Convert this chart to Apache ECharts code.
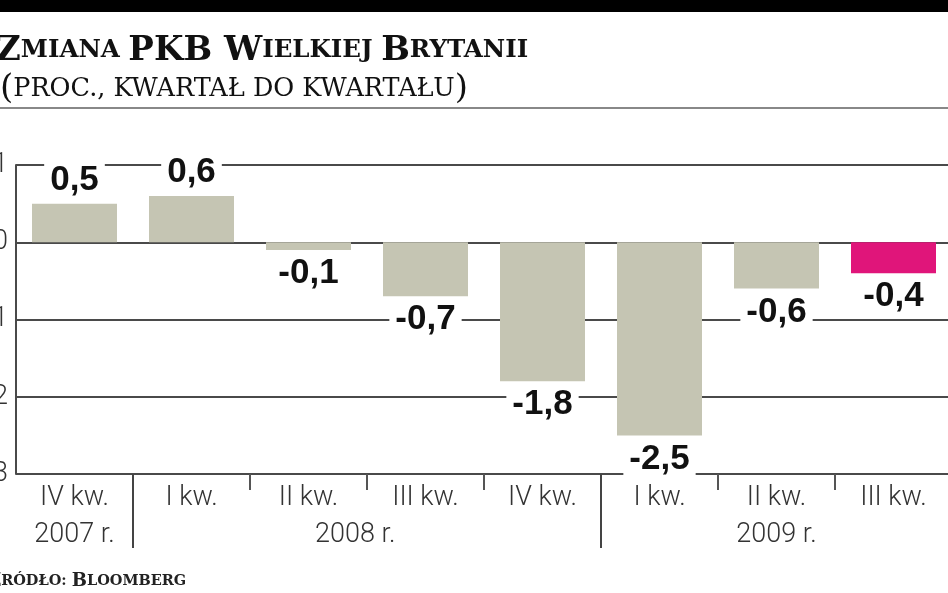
<!DOCTYPE html>
<html><head><meta charset="utf-8">
<script src="https://cdn.jsdelivr.net/npm/echarts@6/dist/echarts.min.js"></script>
<style>html,body{margin:0;padding:0;background:#fff}#c{width:948px;height:593px}</style>
</head><body><div id="c"></div>
<script>
const quarters = ['IV kw.','I kw.','II kw.','III kw.','IV kw.','I kw.','II kw.','III kw.'];
const gdpChange = [0.5, 0.6, -0.1, -0.7, -1.8, -2.5, -0.6, -0.4];
const highlightIndex = 7;
const yearLabels = ['2007 r.', '2008 r.', '2009 r.'];
const yearLabelPos = [0.5, 2.9, 6.5];
const yearSeparators = [1, 5];
const quarterSeparators = [2, 3, 4, 6, 7];
const titleText = '{b|Z}{s|MIANA }{b|PKB W}{s|IELKIEJ }{b|B}{s|RYTANII}';
const subtitleText = '{p|(}{s|PROC., KWARTAŁ DO KWARTAŁU}{p|)}';
const sourceText = '{b|Ź}{s|RÓDŁO: }{b|B}{s|LOOMBERG}';

const GREY = '#c5c5b3', PINK = '#e0157a', LINE = '#4a4a4a';
const numFont = 'Liberation Sans, Arial, sans-serif';
const narrow = 'Roboto, "Liberation Sans", sans-serif';
const serif = '"DejaVu Serif", serif';

const barData = gdpChange.map((v, i) => ({
  value: v,
  itemStyle: { color: i === highlightIndex ? PINK : GREY },
  label: { position: v >= 0 ? 'top' : 'bottom' }
}));

const chart = echarts.init(document.getElementById('c'), null, { renderer: 'canvas' });
chart.setOption({
  animation: false,
  backgroundColor: '#fff',
  title: [
    { text: titleText, left: -9, top: 29, textStyle: { rich: {
      b: { fontFamily: serif, fontWeight: 'bold', fontSize: 34, color: '#111' },
      s: { fontFamily: serif, fontWeight: 'bold', fontSize: 24.5, color: '#111' } } } },
    { text: subtitleText, left: -5, top: 67, textStyle: { fontWeight: 'normal', rich: {
      p: { fontFamily: serif, fontWeight: 'normal', fontSize: 34, color: '#111' },
      s: { fontFamily: serif, fontWeight: 'normal', fontSize: 25.5, color: '#111' } } } },
    { text: sourceText, left: -17, top: 567, textStyle: { rich: {
      b: { fontFamily: serif, fontWeight: 'bold', fontSize: 18, color: '#222' },
      s: { fontFamily: serif, fontWeight: 'bold', fontSize: 14.5, color: '#222' } } } }
  ],
  graphic: [
    { type: 'rect', shape: { x: 0, y: 0, width: 948, height: 12 }, style: { fill: '#000' } },
    { type: 'rect', shape: { x: 0, y: 107, width: 948, height: 2 }, style: { fill: '#888' } }
  ],
  grid: { left: 16, top: 165, width: 936, height: 309, containLabel: false, outerBoundsMode: 'none' },
  xAxis: [
    { type: 'category', data: quarters, position: 'bottom',
      axisLine: { show: true, lineStyle: { color: LINE, width: 2 } },
      axisTick: { show: false },
      axisLabel: { interval: 0, margin: 11, fontFamily: narrow, fontWeight: 300, fontSize: 27, lineHeight: 27, color: '#333' } },
    { type: 'value', min: 0, max: 8, position: 'bottom',
      axisLine: { show: false }, splitLine: { show: false },
      axisTick: { show: true, customValues: quarterSeparators, length: 16, lineStyle: { color: '#555', width: 2 } },
      axisLabel: { show: false } },
    { type: 'value', min: 0, max: 8, position: 'bottom',
      axisLine: { show: false }, splitLine: { show: false },
      axisTick: { show: true, customValues: yearSeparators, length: 74, lineStyle: { color: '#444', width: 2 } },
      axisLabel: { show: true, customValues: yearLabelPos, margin: 48,
        formatter: (v) => yearLabels[yearLabelPos.indexOf(v)] || '',
        fontFamily: narrow, fontWeight: 300, fontSize: 27, lineHeight: 27, color: '#333' } }
  ],
  yAxis: { type: 'value', min: -3, max: 1, interval: 1,
    axisLine: { show: true, lineStyle: { color: LINE, width: 2 } },
    axisTick: { show: false },
    splitLine: { show: true, lineStyle: { color: LINE, width: 2 } },
    axisLabel: { margin: 8, fontFamily: narrow, fontWeight: 300, fontSize: 27, color: '#333' } },
  series: [{
    type: 'bar', xAxisIndex: 0, data: barData, barWidth: 85, z: 3,
    label: { show: true, distance: 6, fontFamily: numFont, fontWeight: 'bold', fontSize: 35,
      color: '#111', backgroundColor: '#fff', padding: [0, 6, 0, 6],
      formatter: (p) => p.value.toFixed(1).replace('.', ',') }
  }]
});
</script></body></html>
